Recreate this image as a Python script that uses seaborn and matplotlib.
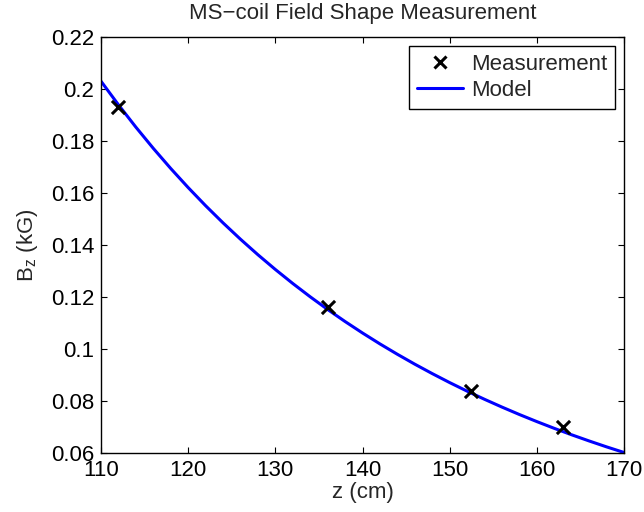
import matplotlib
matplotlib.use("Agg")
import matplotlib.pyplot as plt
import seaborn as sns
import pandas as pd
from matplotlib.lines import Line2D

# Measured points
meas_z = [112.0, 136.0, 152.5, 163.0]
meas_b = [0.193, 0.116, 0.084, 0.070]

# Model curve (every 2 cm)
model_z = [110, 112, 114, 116, 118, 120, 122, 124, 126, 128, 130,
           132, 134, 136, 138, 140, 142, 144, 146, 148, 150,
           152, 154, 156, 158, 160, 162, 164, 166, 168, 170]
model_b = [0.20300, 0.19393, 0.18533, 0.17717, 0.16943, 0.16209, 0.15512,
           0.14851, 0.14223, 0.13626, 0.13059, 0.12520, 0.12008, 0.11520,
           0.11057, 0.10616, 0.10196, 0.09797, 0.09416, 0.09054, 0.08708,
           0.08379, 0.08065, 0.07766, 0.07480, 0.07208, 0.06948, 0.06700,
           0.06463, 0.06236, 0.06020]

x_ticks = [110, 120, 130, 140, 150, 160, 170]
x_tick_labels = ["110", "120", "130", "140", "150", "160", "170"]
y_ticks = [0.06, 0.08, 0.10, 0.12, 0.14, 0.16, 0.18, 0.20, 0.22]
y_tick_labels = ["0.06", "0.08", "0.1", "0.12", "0.14", "0.16", "0.18", "0.2", "0.22"]

title = "MS\u2212coil Field Shape Measurement"
xlabel = "z (cm)"
ylabel = r"B$_z$ (kG)"

sns.set_style("white")
plt.rcParams["font.family"] = ["Liberation Sans", "DejaVu Sans"]
plt.rcParams["mathtext.default"] = "regular"
FS = 16

meas_df = pd.DataFrame({"z": meas_z, "b": meas_b})
model_df = pd.DataFrame({"z": model_z, "b": model_b})

fig = plt.figure(figsize=(6.44, 5.12), dpi=100)
ax = fig.add_axes([101 / 644, 1 - 453 / 512, (624 - 101) / 644, (453 - 37) / 512])

sns.lineplot(data=model_df, x="z", y="b", ax=ax, color=(0, 0, 1), linewidth=2.2,
             sort=False, estimator=None, zorder=2)
sns.scatterplot(data=meas_df, x="z", y="b", ax=ax, marker="x", color="black",
                s=90, linewidth=2.2, zorder=3)

ax.set_xlim(110, 170)
ax.set_ylim(0.06, 0.22)
ax.set_xticks(x_ticks)
ax.set_xticklabels(x_tick_labels, fontsize=FS)
ax.set_yticks(y_ticks)
ax.set_yticklabels(y_tick_labels, fontsize=FS)
ax.tick_params(direction="in", length=4, width=0.8, top=True, right=True,
               bottom=True, left=True, pad=5, colors="black")
for s in ax.spines.values():
    s.set_visible(True)
    s.set_color("black")
    s.set_linewidth(1.0)

ax.set_title(title, fontsize=FS, pad=13)
ax.set_xlabel(xlabel, fontsize=FS, labelpad=1)
ax.set_ylabel(ylabel, fontsize=FS, labelpad=8)

handles = [
    Line2D([], [], linestyle="none", marker="x", color="black", markersize=8,
           markeredgewidth=2.2),
    Line2D([], [], color=(0, 0, 1), linewidth=2.2),
]
leg = ax.legend(handles, ["Measurement", "Model"], loc="upper right", fontsize=FS,
                frameon=True, fancybox=False, framealpha=1, edgecolor="black",
                handlelength=2.1, handletextpad=0.35, labelspacing=0.25,
                borderpad=0.35, borderaxespad=0.4)
leg.get_frame().set_linewidth(1.0)

fig.savefig("out.png", dpi=100)
